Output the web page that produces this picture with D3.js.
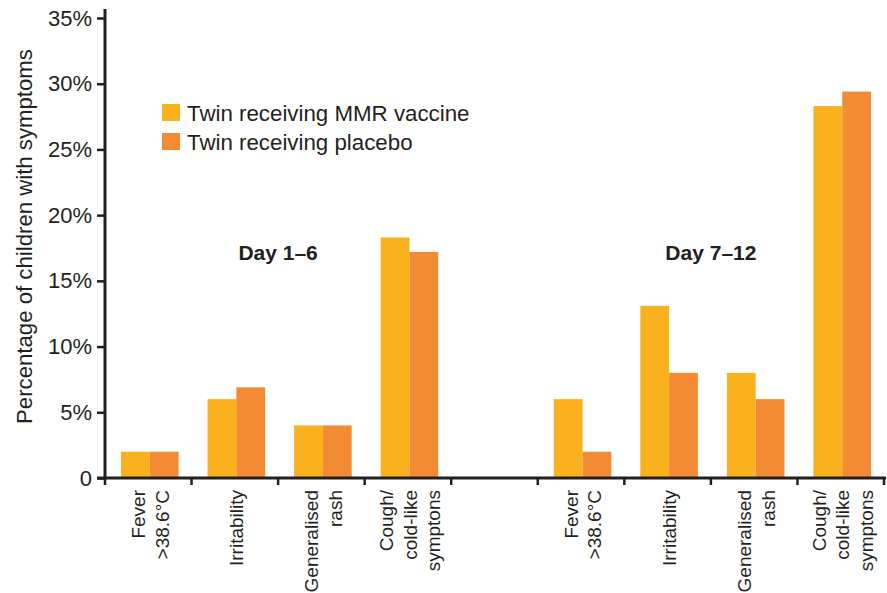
<!DOCTYPE html>
<html>
<head>
<meta charset="utf-8">
<script src="https://cdn.jsdelivr.net/npm/d3@7"></script>
<style>
  body { margin: 0; background: #fff; }
  text { font-family: "Liberation Sans", Arial, sans-serif; fill: #231f20; }
</style>
</head>
<body>
<svg id="chart" width="887" height="593"></svg>
<script>
// Data (percent of children with symptoms)
const slots = ['d1_fever', 'd1_irrit', 'd1_rash', 'd1_cough', 'gap',
               'd2_fever', 'd2_irrit', 'd2_rash', 'd2_cough'];
const symptomLabels = [['Fever', '>38.6°C'], ['Irritability'], ['Generalised', 'rash'],
                       ['Cough/', 'cold-like', 'symptons']];
const vaccine = [2, 6, 4, 18.3, null, 6, 13.1, 8, 28.3];
const placebo = [2, 6.9, 4, 17.2, null, 2, 8, 6, 29.4];
const seriesNames = ['Twin receiving MMR vaccine', 'Twin receiving placebo'];
const seriesColors = ['#f9b21e', '#f38b35'];
const periods = ['Day 1–6', 'Day 7–12'];
const yTicks = [0, 5, 10, 15, 20, 25, 30, 35];

const svg = d3.select('#chart');
const plotL = 105, plotR = 884, plotT = 18, plotB = 478;
const ink = '#231f20';

let x = d3.scaleBand().domain(slots).range([plotL, plotR]);
let x1 = d3.scaleBand().domain([0, 1])
  .range([x.bandwidth() * 0.185, x.bandwidth() * 0.85]);
let y = d3.scaleLinear().domain([0, 35]).range([plotB, plotT]);

// Bars
slots.forEach(function(k, i) {
  [vaccine[i], placebo[i]].forEach(function(v, s) {
    if (v == null) return;
    svg.append('rect')
      .attr('x', x(k) + x1(s))
      .attr('y', y(v))
      .attr('width', x1.bandwidth())
      .attr('height', y(0) - y(v))
      .attr('fill', seriesColors[s]);
  });
});

// Y axis
let yAxis = d3.axisLeft(y).tickValues(yTicks)
  .tickFormat(d => d === 0 ? '0' : d + '%')
  .tickSize(8).tickPadding(5);
let gy = svg.append('g').attr('transform', 'translate(' + plotL + ',0)').call(yAxis);
gy.select('.domain').remove();
gy.selectAll('line').attr('stroke', ink).attr('stroke-width', 2.5);
gy.selectAll('text').attr('font-size', 22).style('fill', ink);
svg.append('line')
  .attr('x1', plotL).attr('x2', plotL)
  .attr('y1', 9).attr('y2', plotB + 1.5)
  .attr('stroke', ink).attr('stroke-width', 3);

// X axis with ticks at slot boundaries
svg.append('line')
  .attr('x1', plotL - 8).attr('x2', plotR + 2)
  .attr('y1', plotB).attr('y2', plotB)
  .attr('stroke', ink).attr('stroke-width', 3);
slots.map(k => x(k)).concat([plotR]).forEach(function(t) {
  svg.append('line')
    .attr('x1', t).attr('x2', t)
    .attr('y1', plotB).attr('y2', plotB + 7)
    .attr('stroke', ink).attr('stroke-width', 2.5);
});

// Category labels, rotated
slots.forEach(function(k, i) {
  if (k === 'gap') return;
  let lines = symptomLabels[i % 5];
  let cx = x(k) + x.bandwidth() / 2 + 2;
  lines.forEach(function(line, j) {
    let lx = cx + (j - (lines.length - 1) / 2) * 23.5;
    svg.append('text')
      .attr('transform', 'translate(' + lx + ',490) rotate(-90)')
      .attr('text-anchor', 'end')
      .attr('dy', '0.35em')
      .attr('font-size', 19)
      .text(line);
  });
});

// Period labels
periods.forEach(function(p, i) {
  let first = slots[i * 5], last = slots[i * 5 + 3];
  svg.append('text')
    .attr('x', (x(first) + x(last) + x.bandwidth()) / 2)
    .attr('y', 260)
    .attr('text-anchor', 'middle')
    .attr('font-size', 21)
    .attr('font-weight', 'bold')
    .text(p);
});

// Legend
seriesNames.forEach(function(n, i) {
  svg.append('rect')
    .attr('x', 162).attr('y', 104 + i * 29)
    .attr('width', 18).attr('height', 17)
    .attr('fill', seriesColors[i]);
  svg.append('text')
    .attr('x', 187).attr('y', 120.5 + i * 29)
    .attr('font-size', 22.3)
    .text(n);
});

// Y title
svg.append('text')
  .attr('transform', 'translate(32,' + ((50 + 423) / 2) + ') rotate(-90)')
  .attr('text-anchor', 'middle')
  .attr('font-size', 22.2)
  .text('Percentage of children with symptoms');
</script>
</body>
</html>
